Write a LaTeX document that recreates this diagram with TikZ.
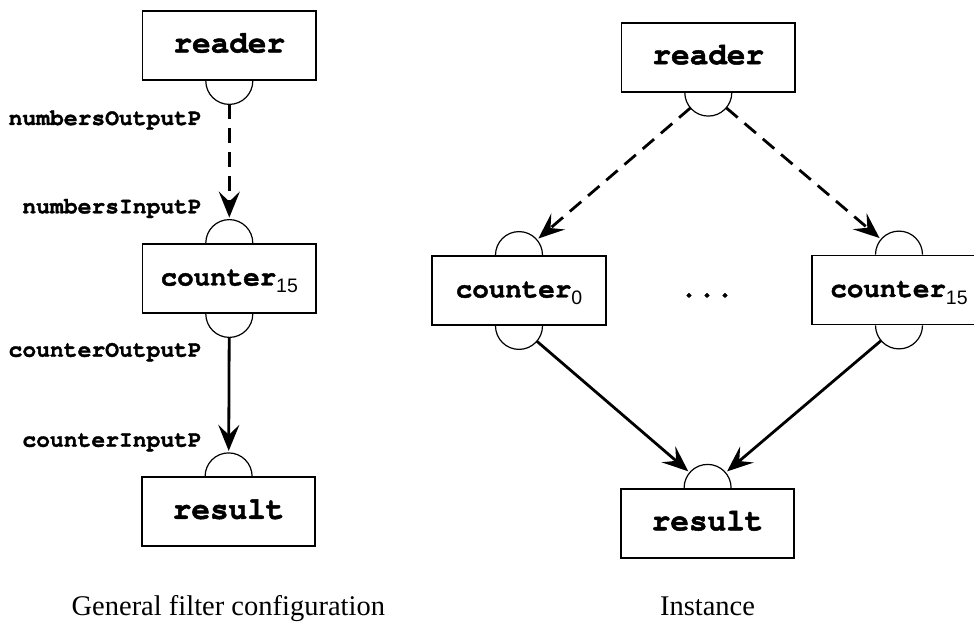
\documentclass[tikz,border=0pt]{standalone}
\usepackage{fontspec}
\setmainfont{Liberation Serif}
\newfontfamily\courfont[BoldFeatures={FakeBold=1.6}]{TeX Gyre Cursor}
\newfontfamily\helvfont{Liberation Sans}
\usetikzlibrary{arrows.meta}

% subscript index set in a sans face, lowered below the baseline
\newcommand\idx[1]{\raisebox{-7.5pt}{\helvfont\mdseries\fontsize{19.5}{19.5}\selectfont #1}}

\tikzset{
  comp/.style={draw, line width=1.8pt, minimum width=173.5pt, minimum height=69pt,
    inner sep=0pt, text height=14pt, text depth=0pt,
    font=\courfont\bfseries\fontsize{31}{31}\selectfont},
  compsmall/.style={comp, font=\courfont\bfseries\fontsize{27.5}{27.5}\selectfont},
  portc/.style={circle, minimum size=47pt, inner sep=0pt, outer sep=0pt},
  portarc/.style={line width=1.2pt},
  plabel/.style={anchor=base east, inner sep=0pt,
    font=\courfont\bfseries\fontsize{23}{23}\selectfont},
  flow/.style={line width=2.8pt, -{Stealth[length=26pt,width=21pt,inset=10pt]},
    shorten >=2pt},
  dflow/.style={flow, dash pattern=on 15pt off 9pt},
  caption/.style={anchor=base, inner sep=0pt, font=\fontsize{28.5}{28.5}\selectfont},
  dots/.style={anchor=base, inner sep=0pt,
    font=\courfont\bfseries\fontsize{30}{30}\selectfont}
}

\begin{document}
\begin{tikzpicture}[x=1pt, y=1pt]
  \useasboundingbox (0,0) rectangle (974,622);
  \clip (0,0) rectangle (974,622);

  % ---------- general filter configuration ----------
  \node[comp]      (readerL)  at (229.3,576.5) {reader};
  \node[compsmall] (counterL) at (229.3,343.5) {counter\idx{15}};
  \node[comp]      (resultL)  at (228.6,110.2) {result};

  \node[portc] (rLout) at (readerL.south)  {};
  \node[portc] (cLin)  at (counterL.north) {};
  \node[portc] (cLout) at (counterL.south) {};
  \node[portc] (sLin)  at (resultL.north)  {};

  \draw[portarc] ([xshift=-23.5pt]readerL.south)  arc[start angle=180, end angle=360, radius=23.5pt];
  \draw[portarc] ([xshift=-23.5pt]counterL.north) arc[start angle=180, end angle=0,   radius=23.5pt];
  \draw[portarc] ([xshift=-23.5pt]counterL.south) arc[start angle=180, end angle=360, radius=23.5pt];
  \draw[portarc] ([xshift=-23.5pt]resultL.north)  arc[start angle=180, end angle=0,   radius=23.5pt];

  \draw[dflow] (rLout) -- (cLin);
  \draw[flow]  (cLout) -- (sLin);

  \node[plabel] (lNO) at (202,497)   {numbersOutputP};
  \node[plabel] (lNI) at (202,408.7) {numbersInputP};
  \node[plabel] (lCO) at (202,265.3) {counterOutputP};
  \node[plabel] (lCI) at (202,175.3) {counterInputP};

  \node[caption] (capL) at (228.3,7) {General filter configuration};

  % ---------- instance ----------
  \node[comp]      (readerR) at (708.3,564.8) {reader};
  \node[compsmall] (cnt0)    at (519,331.5)   {counter\idx{0}};
  \node[compsmall] (cnt15)   at (899,332)     {counter\idx{15}};
  \node[comp]      (resultR) at (707.6,98.7)  {result};
  \node[dots]      (gap)     at (707,325)     {...};

  \node[portc] (rRout)  at (readerR.south) {};
  \node[portc] (c0in)   at (cnt0.north)    {};
  \node[portc] (c0out)  at (cnt0.south)    {};
  \node[portc] (c15in)  at (cnt15.north)   {};
  \node[portc] (c15out) at (cnt15.south)   {};
  \node[portc] (sRin)   at (resultR.north) {};

  \draw[portarc] ([xshift=-23.5pt]readerR.south) arc[start angle=180, end angle=360, radius=23.5pt];
  \draw[portarc] ([xshift=-23.5pt]cnt0.north)    arc[start angle=180, end angle=0,   radius=23.5pt];
  \draw[portarc] ([xshift=-23.5pt]cnt0.south)    arc[start angle=180, end angle=360, radius=23.5pt];
  \draw[portarc] ([xshift=-23.5pt]cnt15.north)   arc[start angle=180, end angle=0,   radius=23.5pt];
  \draw[portarc] ([xshift=-23.5pt]cnt15.south)   arc[start angle=180, end angle=360, radius=23.5pt];
  \draw[portarc] ([xshift=-23.5pt]resultR.north) arc[start angle=180, end angle=0,   radius=23.5pt];

  \draw[dflow] (rRout) -- (c0in);
  \draw[dflow] (rRout) -- (c15in);
  \draw[flow]  (c0out)  -- (sRin);
  \draw[flow]  (c15out) -- (sRin);

  \node[caption] (capR) at (707.5,7) {Instance};
\end{tikzpicture}
\end{document}
